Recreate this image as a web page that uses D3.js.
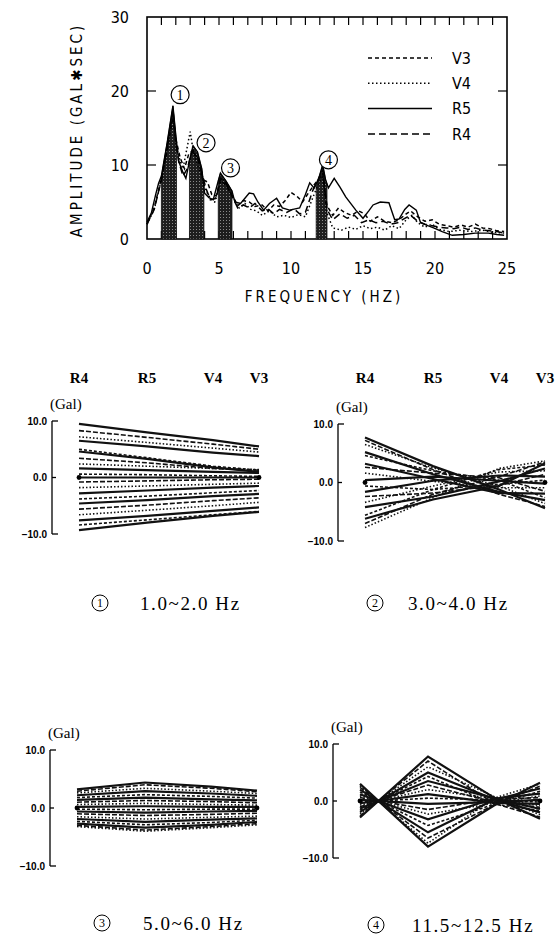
<!DOCTYPE html>
<html>
<head>
<meta charset="utf-8">
<script src="https://cdn.jsdelivr.net/npm/d3@7"></script>
<style>
body { margin: 0; background: #fff; }
svg { display: block; }
</style>
</head>
<body>
<svg id="fig" width="560" height="945"></svg>
<script>
// ---- spectrum data: [frequency (Hz), amplitude (gal*sec)] ----
var specV3 = [[0,2],[0.5,4.2],[1.0,8.2],[1.4,12],[1.8,16.5],[2.0,13.5],[2.3,11],[2.6,9.5],[2.9,11.5],[3.2,12],[3.6,10.5],[3.9,8],[4.2,7.7],[4.5,6],[4.8,5.8],[5.1,8],[5.5,7.2],[5.9,6],[6.3,4.5],[6.7,5.2],[7.1,5],[7.5,4.4],[8.0,4.6],[8.4,3.8],[8.8,4.6],[9.2,4.4],[9.6,5.2],[10.0,6.3],[10.4,5.8],[10.8,5],[11.2,6.2],[11.6,7.3],[12.2,8.8],[12.5,4.5],[12.9,3.2],[13.3,4.2],[13.7,3.6],[14.2,3.2],[14.7,3.8],[15.1,3.4],[15.5,2.4],[16.0,3],[16.5,2.4],[17,2.2],[17.5,2.6],[18,3.4],[18.3,3.8],[18.8,3],[19.3,2.4],[19.8,2.6],[20.3,2],[20.8,1.8],[21.3,1.6],[21.8,1.9],[22.3,1.6],[22.8,2],[23.3,1.5],[23.8,1.4],[24.3,1.1],[24.8,1]];
var specV4 = [[0,2],[0.5,4],[1.0,8],[1.4,12.5],[1.8,17],[2.0,13],[2.3,10.5],[2.5,9.5],[2.7,11.5],[3.0,14.5],[3.2,12],[3.5,10],[3.8,8.5],[4.1,6.5],[4.4,5.5],[4.7,5],[5.0,7],[5.2,8.3],[5.6,7],[6.0,5.5],[6.4,4.2],[6.8,4.8],[7.2,4],[7.6,3.8],[8.0,3.2],[8.5,3.8],[9.0,3.0],[9.5,3.2],[10.0,2.9],[10.5,3.3],[11.0,3.0],[11.4,5],[11.8,7],[12.2,8.5],[12.5,3.5],[12.9,1.5],[13.5,1.2],[14,1.6],[14.5,1.3],[15,1.8],[15.5,1.4],[16,1.6],[16.5,1.2],[17,1.8],[17.5,1.4],[18,2.6],[18.4,3.2],[18.8,2.2],[19.3,1.6],[19.8,2],[20.3,1.3],[21,1],[21.8,1.2],[22.5,1],[23.3,1.2],[24,0.9],[24.8,0.8]];
var specR5 = [[0,2.3],[0.3,3.5],[0.6,6],[0.8,7.5],[1.0,8.5],[1.4,13],[1.8,18],[2.0,14],[2.2,10.5],[2.5,9],[2.7,8.2],[3.0,11],[3.2,12.6],[3.5,11.8],[3.8,9.5],[4.0,6.2],[4.3,5.6],[4.6,5.3],[4.9,7.5],[5.1,8.9],[5.5,7.8],[5.9,6.5],[6.1,5],[6.5,4.8],[6.8,5.5],[7.1,6.2],[7.4,6.1],[7.7,5],[8.1,3.9],[8.5,4.8],[9.0,5.5],[9.4,4.2],[9.9,3.9],[10.6,4.2],[11.0,6],[11.3,7.6],[11.6,6.9],[11.9,8],[12.2,10],[12.4,8],[12.6,6.9],[13.0,8.2],[13.4,7],[13.8,5.7],[14.5,3.9],[15.0,2.8],[15.4,3.8],[15.7,4.6],[16.2,5],[16.8,4.9],[17.2,2.6],[17.5,2.7],[17.9,4],[18.2,4.6],[18.7,3.9],[19.0,2.2],[19.5,1.8],[19.9,1.5],[20.5,1],[21.2,0.5],[22,0.6],[22.8,0.8],[23.7,0.8],[24.3,0.6],[24.8,0.5]];
var specR4 = [[0,2],[0.5,4],[1.0,8],[1.4,12.5],[1.8,17.5],[2.0,13],[2.2,10.5],[2.5,8.5],[2.8,9.5],[3.1,11.8],[3.5,11.2],[3.8,9],[4.1,6.8],[4.4,5.3],[4.8,5.5],[5.1,8.2],[5.5,7.5],[5.9,5.8],[6.3,4.2],[6.7,4.6],[7.1,4.2],[7.5,4.8],[8.0,3.8],[8.4,4.1],[8.8,3.4],[9.2,4],[9.7,3.6],[10.2,4.1],[10.6,3.4],[11.0,3.6],[11.5,6.5],[12.2,9.3],[12.5,4],[12.9,2.6],[13.4,3.4],[13.9,2.8],[14.4,3.2],[14.9,2.2],[15.4,2.6],[15.9,2.2],[16.4,2.4],[16.9,2],[17.4,2.2],[17.9,2.8],[18.3,3.2],[18.8,2.4],[19.3,2],[19.8,1.8],[20.3,1.6],[20.8,1.5],[21.3,1.4],[21.8,1.6],[22.3,1.3],[22.8,1.5],[23.3,1.2],[23.8,1.1],[24.3,1],[24.8,0.8]];
var seriesNames = ["V3", "V4", "R5", "R4"];
var yTicks = [0, 10, 20, 30];
var xTicks = [0, 5, 10, 15, 20, 25];

// frequency bands picked out (shaded) and their circled numbers
var bands = [[1.0, 2.05], [2.95, 3.95], [4.95, 5.9], [11.75, 12.5]];
var bandNums = ["1", "2", "3", "4"];
var bandNumAt = [[2.3, 19.5], [4.1, 13], [5.8, 9.6], [12.6, 10.7]];

// ---- mode shapes: amplitude (Gal) at R4, R5, V4, V3 ----
var stations = ["R4", "R5", "V4", "V3"];
var mode1 = [[9.5,8.0,6.6,5.5],[8.3,7.1,5.9,5.0],[7.2,6.2,5.2,4.5],[6.5,5.5,4.4,3.8],[5.0,3.5,2.0,1.3],[4.6,3.3,1.8,1.0],[3.4,2.6,1.6,1.3],[2.4,2.0,1.6,1.4],[1.6,1.3,1.0,0.8],[0.6,0.5,0.3,0.2],[0,0,0,0],[-0.8,-0.6,-0.4,-0.3],[-1.8,-1.5,-1.2,-1.0],[-2.8,-2.3,-1.8,-1.5],[-3.8,-3.3,-2.7,-2.3],[-4.6,-4.0,-3.3,-2.9],[-5.6,-4.9,-4.1,-3.6],[-6.6,-5.8,-5.0,-4.4],[-7.6,-6.8,-5.9,-5.3],[-8.4,-7.5,-6.6,-6.0],[-9.3,-8.0,-6.8,-6.1]];
var mode2 = [[7.7,2.8,-1.2,-4.4],[7.2,2.2,-2.0,-4.1],[6.5,2.5,-0.6,-3.6],[5.2,1.4,-1.6,-3.0],[4.6,2.0,0.4,-2.6],[3.2,0.6,-1.8,-1.9],[2.6,1.6,0.8,-1.5],[1.6,0.2,-0.9,-0.9],[0.4,1.0,0.3,-0.2],[-0.6,-1.2,-0.3,0.4],[-1.6,0.3,1.2,1.0],[-2.4,-1.8,-0.5,1.4],[-3.4,-0.6,1.8,2.0],[-4.2,-2.4,0.2,2.4],[-5.6,-1.2,2.2,3.0],[-6.2,-2.9,-0.6,3.3],[-7.0,-2.0,1.0,3.5],[-7.7,-2.6,2.4,3.7]];
var mode3 = [[3.2,4.4,3.7,3.0],[2.9,4.0,3.4,2.8],[2.6,3.4,2.9,2.5],[2.2,2.9,2.5,2.1],[1.8,2.3,2.0,1.7],[1.4,1.8,1.5,1.3],[1.0,1.3,1.1,0.9],[0.6,0.8,0.6,0.5],[0.2,0.3,0.2,0.2],[-0.2,-0.3,-0.2,-0.2],[-0.6,-0.8,-0.6,-0.5],[-1.0,-1.3,-1.1,-0.9],[-1.5,-1.9,-1.6,-1.4],[-1.9,-2.4,-2.0,-1.8],[-2.3,-2.9,-2.5,-2.1],[-2.7,-3.4,-2.9,-2.4],[-3.0,-3.8,-3.2,-2.7],[-3.2,-4.0,-3.4,-2.9]];
var mode4 = [[-2.9,7.8,0.6,-3.1],[-2.6,7.0,-0.4,-2.8],[-2.2,6.0,0.8,-2.4],[-1.9,5.0,0.3,-2.0],[-1.6,4.3,-0.5,-1.7],[-1.3,3.5,0.5,-1.4],[-1.0,2.8,-0.2,-1.1],[-0.7,2.0,0.4,-0.8],[-0.4,1.2,-0.3,-0.5],[-0.2,0.5,0.2,-0.2],[0.2,-0.5,-0.2,0.2],[0.6,-1.5,0.3,0.6],[0.9,-2.3,-0.4,0.9],[1.2,-3.2,0.4,1.3],[1.6,-4.3,-0.6,1.7],[2.0,-5.5,0.2,2.2],[2.4,-6.5,-0.7,2.6],[2.7,-7.4,0.5,3.0],[3.0,-8.0,-0.8,3.2]];
var modeTicks = [10, 0, -10];
var modeRanges = ["1.0~2.0 Hz", "3.0~4.0 Hz", "5.0~6.0 Hz", "11.5~12.5 Hz"];

var svg = d3.select("#fig");
var plotFont = "'DejaVu Sans Condensed', 'DejaVu Sans', sans-serif";
var serifFont = "'Liberation Serif', 'DejaVu Serif', serif";

// stipple pattern for the shaded bands
var pat = svg.append("defs").append("pattern")
	.attr("id", "stip")
	.attr("width", 3).attr("height", 3)
	.attr("patternUnits", "userSpaceOnUse");
pat.append("rect").attr("width", 3).attr("height", 3).attr("fill", "#1e1e1e");
pat.append("rect").attr("x", 1).attr("y", 1).attr("width", 1).attr("height", 1).attr("fill", "#8a8a8a");

// ================= spectrum =================
var x = d3.scaleLinear().domain([0, 25]).range([147, 507]);
var y = d3.scaleLinear().domain([0, 30]).range([239, 17]);
var spec = svg.append("g");

spec.append("rect")
	.attr("x", x(0)).attr("y", y(30))
	.attr("width", x(25) - x(0)).attr("height", y(0) - y(30))
	.attr("fill", "none").attr("stroke", "#000").attr("stroke-width", 1.6);

// minor ticks every 1 Hz, top and bottom, pointing inward
var minor = d3.range(1, 25);
spec.selectAll(".tt").data(minor).enter().append("line")
	.attr("x1", function(d) { return x(d); }).attr("x2", function(d) { return x(d); })
	.attr("y1", y(30)).attr("y2", y(30) + 8)
	.attr("stroke", "#000").attr("stroke-width", 1.2);
spec.selectAll(".bt").data(minor).enter().append("line")
	.attr("x1", function(d) { return x(d); }).attr("x2", function(d) { return x(d); })
	.attr("y1", y(0)).attr("y2", y(0) - 8)
	.attr("stroke", "#000").attr("stroke-width", 1.2);
[10, 20].forEach(function(v) {
	spec.append("line").attr("x1", x(0)).attr("x2", x(0) + 9)
		.attr("y1", y(v)).attr("y2", y(v)).attr("stroke", "#000").attr("stroke-width", 1.2);
	spec.append("line").attr("x1", x(25)).attr("x2", x(25) - 9)
		.attr("y1", y(v)).attr("y2", y(v)).attr("stroke", "#000").attr("stroke-width", 1.2);
});

spec.selectAll(".yl").data(yTicks).enter().append("text")
	.attr("x", 129).attr("y", function(d) { return y(d); })
	.attr("dy", "0.36em").attr("text-anchor", "end")
	.style("font-family", plotFont).style("font-size", "16px")
	.text(function(d) { return d; });
spec.selectAll(".xl").data(xTicks).enter().append("text")
	.attr("x", function(d) { return x(d); }).attr("y", 268)
	.attr("dy", "0.36em").attr("text-anchor", "middle")
	.style("font-family", plotFont).style("font-size", "16px")
	.text(function(d) { return d; });

spec.append("text")
	.attr("transform", "translate(77,130) rotate(-90)")
	.attr("text-anchor", "middle").attr("dy", "0.36em")
	.style("font-family", plotFont).style("font-size", "15px").style("letter-spacing", "3px")
	.text("AMPLITUDE (GAL\u2731SEC)");
spec.append("text")
	.attr("x", 324).attr("y", 297).attr("dy", "0.36em")
	.attr("text-anchor", "middle")
	.style("font-family", plotFont).style("font-size", "15px").style("letter-spacing", "3px")
	.text("FREQUENCY (HZ)");

// shaded bands: area under R5 inside each band
function r5At(f) {
	for (var i = 1; i < specR5.length; i++) {
		if (specR5[i][0] >= f) {
			var a = specR5[i - 1], b = specR5[i];
			return a[1] + (b[1] - a[1]) * (f - a[0]) / (b[0] - a[0]);
		}
	}
	return specR5[specR5.length - 1][1];
}
var area = d3.area()
	.x(function(d) { return x(d[0]); })
	.y0(y(0))
	.y1(function(d) { return y(d[1]); });
bands.forEach(function(b) {
	var pts = [[b[0], r5At(b[0])]];
	specR5.forEach(function(p) { if (p[0] > b[0] && p[0] < b[1]) pts.push(p); });
	pts.push([b[1], r5At(b[1])]);
	spec.append("path").attr("d", area(pts))
		.attr("fill", "url(#stip)").attr("stroke", "#111").attr("stroke-width", 0.8);
});

var dashes = { V3: "4,3", V4: "1.5,2.5", R5: null, R4: "7,4" };
var specs = { V3: specV3, V4: specV4, R5: specR5, R4: specR4 };
var line = d3.line()
	.x(function(d) { return x(d[0]); })
	.y(function(d) { return y(d[1]); });
seriesNames.forEach(function(n) {
	spec.append("path").attr("d", line(specs[n]))
		.attr("fill", "none").attr("stroke", "#000")
		.attr("stroke-width", n == "R5" ? 1.4 : 1.5)
		.attr("stroke-dasharray", dashes[n]);
});

// legend
var lg = spec.append("g");
seriesNames.forEach(function(n, i) {
	var ly = 58 + i * 25.3;
	lg.append("line").attr("x1", 368).attr("x2", 432).attr("y1", ly).attr("y2", ly)
		.attr("stroke", "#000").attr("stroke-width", 1.5)
		.attr("stroke-dasharray", dashes[n]);
	lg.append("text").attr("x", 452).attr("y", ly).attr("dy", "0.36em")
		.style("font-family", plotFont).style("font-size", "16px")
		.text(n);
});

// circled band numbers
bandNums.forEach(function(n, i) {
	var cx = x(bandNumAt[i][0]), cy = y(bandNumAt[i][1]);
	spec.append("circle").attr("cx", cx).attr("cy", cy).attr("r", 9)
		.attr("fill", "#fff").attr("stroke", "#000").attr("stroke-width", 1.2);
	spec.append("text").attr("x", cx).attr("y", cy).attr("dy", "0.36em")
		.attr("text-anchor", "middle")
		.style("font-family", serifFont).style("font-size", "14px")
		.text(n);
});

// ================= mode shape panels =================
var panels = [
	{ lines: mode1, ax: 52,  yTop: 421, yBot: 534, heads: true,  capY: 603, numX: 100, txtX: 140 },
	{ lines: mode2, ax: 338, yTop: 424, yBot: 541, heads: true,  capY: 603, numX: 375, txtX: 408 },
	{ lines: mode3, ax: 50,  yTop: 750, yBot: 866, heads: false, capY: 923, numX: 102, txtX: 143 },
	{ lines: mode4, ax: 333, yTop: 744, yBot: 858, heads: false, capY: 925, numX: 376, txtX: 412 }
];
var stX = d3.scaleOrdinal().domain(stations).range([27, 95, 161, 207]);
var styles = [null, "5,2", "1.5,2", null, "3,2"];

panels.forEach(function(p, k) {
	var g = svg.append("g").attr("transform", "translate(" + p.ax + ",0)");
	var py = d3.scaleLinear().domain([10, -10]).range([p.yTop, p.yBot]);

	g.append("line").attr("x1", 0).attr("x2", 0).attr("y1", py(10)).attr("y2", py(-10))
		.attr("stroke", "#000").attr("stroke-width", 1.3);
	g.selectAll(".mt").data(modeTicks).enter().append("line")
		.attr("x1", 0).attr("x2", function(d) { return d == 0 ? 4 : 6; })
		.attr("y1", function(d) { return py(d); }).attr("y2", function(d) { return py(d); })
		.attr("stroke", "#000").attr("stroke-width", 1.3);
	g.selectAll(".ml").data(modeTicks).enter().append("text")
		.attr("x", -5).attr("y", function(d) { return py(d); }).attr("dy", "0.36em")
		.attr("text-anchor", "end")
		.style("font-family", "'Liberation Sans', Arial, sans-serif")
		.style("font-size", "10px").style("font-weight", "bold")
		.text(function(d) { return d3.format(".1f")(d); });
	g.append("text").attr("x", -2).attr("y", py(10) - 12)
		.style("font-family", serifFont).style("font-size", "15px")
		.text("(Gal)");

	if (p.heads) {
		g.selectAll(".hd").data(stations).enter().append("text")
			.attr("x", function(d) { return stX(d); }).attr("y", 378)
			.attr("dy", "0.36em").attr("text-anchor", "middle")
			.style("font-family", serifFont).style("font-size", "15px").style("font-weight", "bold")
			.text(function(d) { return d; });
	}

	var ml = d3.line()
		.x(function(d, i) { return stX(stations[i]); })
		.y(function(d) { return py(d); });
	g.selectAll(".ln").data(p.lines).enter().append("path")
		.attr("d", ml)
		.attr("fill", "none").attr("stroke", "#111")
		.attr("stroke-width", function(d, i) { return styles[i % 5] ? 1.6 : 2.2; })
		.attr("stroke-dasharray", function(d, i) { return styles[i % 5]; });
	g.selectAll(".dot").data([stations[0], stations[3]]).enter().append("circle")
		.attr("cx", function(d) { return stX(d); }).attr("cy", py(0)).attr("r", 2.4)
		.attr("fill", "#000");

	// caption
	svg.append("circle").attr("cx", p.numX).attr("cy", p.capY).attr("r", 8)
		.attr("fill", "none").attr("stroke", "#000").attr("stroke-width", 1);
	svg.append("text").attr("x", p.numX).attr("y", p.capY).attr("dy", "0.35em")
		.attr("text-anchor", "middle")
		.style("font-family", serifFont).style("font-size", "12px")
		.text(bandNums[k]);
	svg.append("text").attr("x", p.txtX).attr("y", p.capY).attr("dy", "0.35em")
		.style("font-family", serifFont).style("font-size", "19px").style("letter-spacing", "1.6px")
		.text(modeRanges[k]);
});
</script>
</body>
</html>
